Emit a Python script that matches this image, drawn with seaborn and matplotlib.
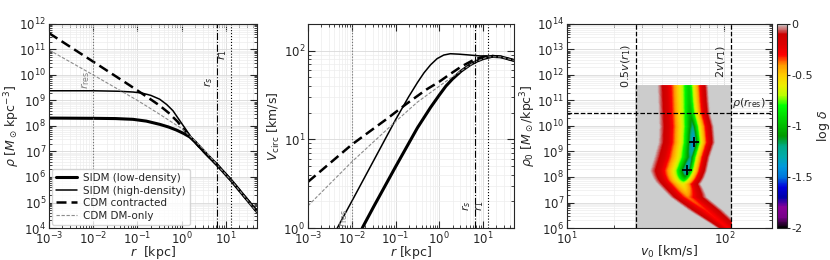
import numpy as np
import pandas as pd
import matplotlib
matplotlib.use("Agg")
import matplotlib.pyplot as plt
from matplotlib.ticker import LogLocator, NullFormatter
import seaborn as sns

# ---- panel 1: density profiles (log10 r [kpc], log10 rho) ----
logr_low = [-3, -2, -1.5, -1.1, -0.8, -0.49, -0.3, -0.12, 0.05, 0.18, 0.3, 0.41, 0.6, 0.8, 1.11, 1.4, 1.7]
logrho_low = [8.31, 8.30, 8.29, 8.26, 8.19, 8.06, 7.96, 7.84, 7.7, 7.57, 7.38, 7.17, 6.82, 6.47, 5.88, 5.27, 4.64]
logr_high = [-3, -2, -1.4, -1.1, -0.9, -0.7, -0.5, -0.34, -0.2, -0.05, 0.07, 0.22, 0.41, 0.6, 0.8, 1.11, 1.4, 1.7]
logrho_high = [9.38, 9.38, 9.36, 9.33, 9.29, 9.2, 9.05, 8.84, 8.6, 8.22, 7.92, 7.54, 7.15, 6.82, 6.47, 5.88, 5.27, 4.64]
logr_contr = [-3, -2, -1.2, -0.75, -0.5, -0.3, -0.1, 0.03, 0.22, 0.41, 0.6, 0.8, 1.11, 1.4, 1.7]
logrho_contr = [11.64, 10.52, 9.62, 9.1, 8.8, 8.52, 8.18, 7.9, 7.53, 7.15, 6.82, 6.47, 5.88, 5.27, 4.66]
logr_dmo = [-3, -2, -1, -0.5, -0.2, 0, 0.3, 0.5, 0.8, 1.11, 1.4, 1.7]
logrho_dmo = [10.98, 10.0, 9.0, 8.46, 8.12, 7.9, 7.42, 7.07, 6.47, 5.88, 5.27, 4.62]

# ---- panel 2: circular velocity (log10 r, log10 V) ----
logrv_low = [-1.76, -1.5, -1, -0.5, -0.2, 0, 0.15, 0.3, 0.5, 0.7, 0.85, 1.0, 1.2, 1.4, 1.7]
logv_low = [0, 0.24, 0.69, 1.13, 1.36, 1.5, 1.6, 1.68, 1.77, 1.84, 1.88, 1.91, 1.935, 1.93, 1.89]
logrv_high = [-2.33, -2, -1.5, -1, -0.7, -0.5, -0.35, -0.2, -0.05, 0.1, 0.25, 0.45, 0.7, 0.93, 1.11, 1.4, 1.7]
logv_high = [0, 0.3, 0.76, 1.22, 1.48, 1.64, 1.75, 1.84, 1.91, 1.95, 1.965, 1.96, 1.95, 1.94, 1.94, 1.93, 1.89]
logrv_contr = [-3, -2, -1.2, -0.75, -0.3, 0, 0.2, 0.5, 0.8, 1.0, 1.2, 1.4, 1.7]
logv_contr = [0.52, 0.94, 1.23, 1.4, 1.56, 1.65, 1.72, 1.82, 1.9, 1.93, 1.94, 1.93, 1.89]
logrv_dmo = [-3, -2, -1, -0.5, 0, 0.4, 0.8, 1.11, 1.4, 1.7]
logv_dmo = [0.25, 0.745, 1.2, 1.42, 1.6, 1.74, 1.87, 1.93, 1.93, 1.89]

r_res, r_s, r_1 = 0.01, 6.4, 13.0

# ---- panel 3: log delta valley, read row by row ----
row_logrho = [6.0, 6.18, 6.71, 7.23, 7.75, 8.27, 8.8, 9.38, 10.0, 10.55, 11.0, 11.57]
valley_center = [2.03, 1.99, 1.886, 1.77, 1.738, 1.763, 1.787, 1.806, 1.80, 1.785, 1.78, 1.776]
red_left = [1.93, 1.886, 1.738, 1.632, 1.569, 1.558, 1.58, 1.611, 1.61, 1.60, 1.595, 1.59]
red_right = [2.15, 2.12, 2.03, 1.918, 1.855, 1.876, 1.897, 1.925, 1.92, 1.90, 1.895, 1.89]
valley_min = [-0.3, -0.3, -0.32, -0.38, -0.6, -1.45, -1.2, -1.5, -1.2, -1.0, -0.95, -0.92]
v_r1 = 55.0
rho_rres = 10 ** 10.52
best_v0 = [64, 58]
best_rho0 = [10 ** 9.38, 10 ** 8.27]

sns.set_style("ticks")
plt.rcParams["font.family"] = ["DejaVu Sans"]
plt.rcParams["mathtext.fontset"] = "dejavusans"
plt.rcParams["font.size"] = 8


def style_log_axis(ax):
    ax.set_xscale("log")
    ax.set_yscale("log")
    for axis in (ax.xaxis, ax.yaxis):
        axis.set_major_locator(LogLocator(base=10, numticks=30))
        axis.set_minor_locator(LogLocator(base=10, subs=np.arange(2, 10), numticks=30))
        axis.set_minor_formatter(NullFormatter())
    ax.tick_params(which="both", direction="in", top=True, right=True, labelsize=8.5, pad=2)
    ax.tick_params(which="major", length=5, width=0.8)
    ax.tick_params(which="minor", length=2.5, width=0.6)
    ax.grid(True, which="major", color="0.85", lw=0.6)
    ax.grid(True, which="minor", color="0.93", lw=0.5)
    ax.set_axisbelow(True)


def curve(ax, lx, ly, **kw):
    df = pd.DataFrame({"x": 10 ** np.array(lx), "y": 10 ** np.array(ly)})
    sns.lineplot(data=df, x="x", y="y", ax=ax, estimator=None, sort=False, **kw)


fig = plt.figure(figsize=(8.3, 2.6), dpi=100)
ax1 = fig.add_axes([0.059, 0.123, 0.2506, 0.785])
ax2 = fig.add_axes([0.371, 0.123, 0.248, 0.785])
ax3 = fig.add_axes([0.683, 0.123, 0.247, 0.785])
cax = fig.add_axes([0.936, 0.123, 0.012, 0.785])

# panel 1
style_log_axis(ax1)
curve(ax1, logr_low, logrho_low, color="k", lw=2.2, label="SIDM (low-density)")
curve(ax1, logr_high, logrho_high, color="k", lw=1.1, label="SIDM (high-density)")
curve(ax1, logr_contr, logrho_contr, color="k", lw=1.8, ls=(0, (4, 2)), label="CDM contracted")
curve(ax1, logr_dmo, logrho_dmo, color="0.55", lw=0.8, ls=(0, (3, 1.5)), label="CDM DM-only")
ax1.axvline(r_res, color="0.45", ls=":", lw=0.8)
ax1.axvline(r_s, color="k", ls="-.", lw=0.8)
ax1.axvline(r_1, color="k", ls=":", lw=0.8)
ax1.text(r_res * 0.93, 10 ** 9.8, r"$r_{\rm res}$", rotation=90, color="0.5", ha="right", va="center", fontsize=8)
ax1.text(r_s * 0.9, 10 ** 9.75, r"$r_s$", rotation=90, ha="right", va="center", fontsize=8)
ax1.text(r_1 * 0.9, 10 ** 10.8, r"$r_1$", rotation=90, ha="right", va="center", fontsize=8)
ax1.set_xlim(1e-3, 50)
ax1.set_ylim(1e4, 1e12)
ax1.set_xlabel(r"$r$  [kpc]", fontsize=9)
ax1.set_ylabel(r"$\rho$ [$M_\odot\,{\rm kpc}^{-3}$]", fontsize=9)
ax1.xaxis.set_label_coords(0.5, -0.077)
ax1.yaxis.set_label_coords(-0.132, 0.5)
ax1.legend(loc="lower left", fontsize=7.5, handlelength=2.0, borderaxespad=0.3, labelspacing=0.25,
           handletextpad=0.6)

# panel 2
style_log_axis(ax2)
curve(ax2, logrv_low, logv_low, color="k", lw=2.2)
curve(ax2, logrv_high, logv_high, color="k", lw=1.1)
curve(ax2, logrv_contr, logv_contr, color="k", lw=1.8, ls=(0, (4, 2)))
curve(ax2, logrv_dmo, logv_dmo, color="0.55", lw=0.8, ls=(0, (3, 1.5)))
ax2.axvline(r_res, color="0.45", ls=":", lw=0.8)
ax2.axvline(r_s, color="k", ls="-.", lw=0.8)
ax2.axvline(r_1, color="k", ls=":", lw=0.8)
ax2.text(r_res * 0.93, 1.3, r"$r_{\rm res}$", rotation=90, color="0.5", ha="right", va="center", fontsize=8)
ax2.text(r_s * 0.9, 1.8, r"$r_s$", rotation=90, ha="right", va="center", fontsize=8)
ax2.text(r_1 * 0.9, 1.8, r"$r_1$", rotation=90, ha="right", va="center", fontsize=8)
ax2.set_xlim(1e-3, 50)
ax2.set_ylim(1, 200)
ax2.set_xlabel(r"$r$ [kpc]", fontsize=9)
ax2.set_ylabel(r"$V_{\rm circ}$ [km/s]", fontsize=9)
ax2.xaxis.set_label_coords(0.5, -0.077)
ax2.yaxis.set_label_coords(-0.128, 0.5)

# panel 3
style_log_axis(ax3)
lrho = np.linspace(row_logrho[0], row_logrho[-1], 260)
lv = np.linspace(np.log10(0.5 * v_r1), np.log10(2 * v_r1), 220)
c = np.interp(lrho, row_logrho, valley_center)[:, None]
wl = (c - np.interp(lrho, row_logrho, red_left)[:, None]) / 0.85
wr = (np.interp(lrho, row_logrho, red_right)[:, None] - c) / 0.85
m = np.interp(lrho, row_logrho, valley_min)[:, None]
d = lv[None, :] - c
w = np.where(d < 0, wl, wr)
logdelta = np.minimum(np.log10(10 ** m + (np.abs(d) / w) ** 1.5), 0)
mesh = ax3.pcolormesh(10 ** lv, 10 ** lrho, logdelta, cmap="nipy_spectral", vmin=-2, vmax=0,
                      shading="gouraud", rasterized=True)
ax3.axvline(0.5 * v_r1, color="k", ls="--", lw=0.9)
ax3.axvline(2 * v_r1, color="k", ls="--", lw=0.9)
ax3.axhline(rho_rres, color="k", ls="--", lw=0.9)
ax3.plot(best_v0, best_rho0, "+", color="k", ms=7, mew=1.3)
ax3.text(0.5 * v_r1 * 0.96, 10 ** 13.2, r"$0.5v(r_1)$", rotation=90, ha="right", va="top", fontsize=8)
ax3.text(2 * v_r1 * 0.96, 10 ** 13.2, r"$2v(r_1)$", rotation=90, ha="right", va="top", fontsize=8)
ax3.text(2 * v_r1 * 1.02, rho_rres * 1.3, r"$\rho(r_{\rm res})$", ha="left", va="bottom", fontsize=8)
ax3.set_xlim(10, 200)
ax3.set_ylim(1e6, 1e14)
ax3.set_xlabel(r"$v_0$ [km/s]", fontsize=9)
ax3.set_ylabel(r"$\rho_0$ [$M_\odot$/kpc$^3$]", fontsize=9)
ax3.xaxis.set_label_coords(0.5, -0.077)
ax3.yaxis.set_label_coords(-0.14, 0.5)

cb = fig.colorbar(mesh, cax=cax, ticks=[0, -0.5, -1, -1.5, -2])
cb.ax.set_yticklabels(["0", "-0.5", "-1", "-1.5", "-2"])
cb.ax.tick_params(labelsize=8, length=2, pad=1)
cb.set_label(r"log $\delta$", fontsize=9, labelpad=2)

fig.savefig("out.png", dpi=100)
